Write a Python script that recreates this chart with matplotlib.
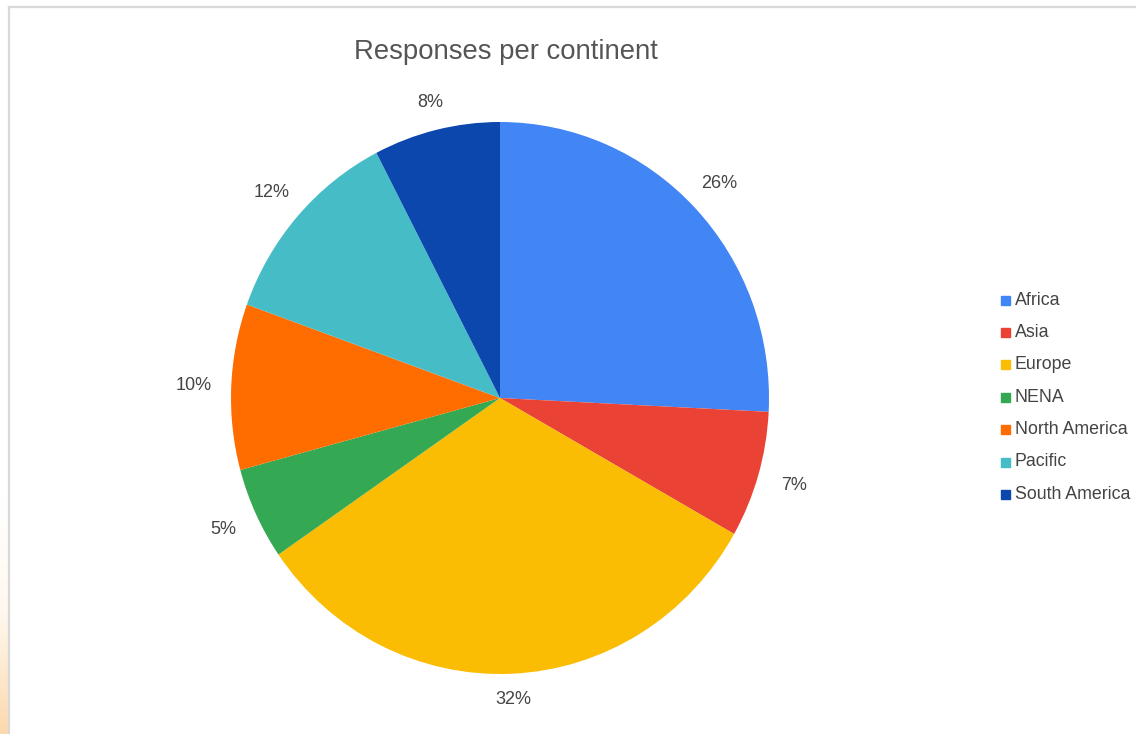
import numpy as np
import matplotlib
matplotlib.use('Agg')
import matplotlib.pyplot as plt
from matplotlib.patches import Rectangle
from matplotlib.lines import Line2D

# Dữ liệu
continents = ['Africa', 'Asia', 'Europe', 'NENA', 'North America', 'Pacific', 'South America']
shares = [25.8, 7.4, 32.2, 5.4, 9.7, 11.9, 7.6]
colors = ['#4285F4', '#EA4335', '#FBBC04', '#34A853', '#FF6D01', '#46BDC6', '#0B47AD']
title = 'Responses per continent'

plt.rcParams['font.family'] = ['Liberation Sans', 'DejaVu Sans']

W, H = 1136, 734
fig = plt.figure(figsize=(W / 100, H / 100), dpi=100)
fig.patch.set_facecolor('white')

# Dải màu cam nhạt ở mép trái (nền slide)
grad = fig.add_axes([0, 0, 8 / W, 240 / H])
g = np.linspace(0, 1, 100)[:, None]
grad.imshow(g, cmap=matplotlib.colors.LinearSegmentedColormap.from_list('bg', ['#fcd9ad', '#fff8ee', '#ffffff']),
            aspect='auto', extent=[0, 1, 0, 1], origin='lower')
grad.axis('off')

# Khung viền xám
fig.add_artist(Line2D([8.5 / W, 1], [1 - 6.5 / H, 1 - 6.5 / H], color='#d9d9d9', lw=1.6))
fig.add_artist(Line2D([8.5 / W, 8.5 / W], [0, 1 - 6.5 / H], color='#d9d9d9', lw=1.6))

# Trục cho biểu đồ tròn: tâm (500, 398), bán kính ngang 269 px, dọc 276 px
cx, cy, rx, ry = 500, 398, 269, 276
lim = 1.2
ax = fig.add_axes([(cx - lim * rx) / W, (H - cy - lim * ry) / H, 2 * lim * rx / W, 2 * lim * ry / H])
wedges, _ = ax.pie(shares, colors=colors, startangle=90, counterclock=False,
                   wedgeprops=dict(linewidth=0))
ax.set_aspect('auto')
ax.set_xlim(-lim, lim)
ax.set_ylim(-lim, lim)
ax.axis('off')

# Nhãn phần trăm
for w, v in zip(wedges, shares):
    th = np.deg2rad((w.theta1 + w.theta2) / 2)
    r = 1.09 + 0.05 * abs(np.cos(th))
    ax.text(r * np.cos(th), r * np.sin(th), f'{v:.0f}%', ha='center', va='center',
            fontsize=13, color='#444444', clip_on=False)

fig.text(505.5 / W, 1 - 52 / H, title, ha='center', va='center', fontsize=19.8, color='#555555')

# Chú thích
for i, (name, c) in enumerate(zip(continents, colors)):
    y = 300 + i * 32.4
    fig.add_artist(Rectangle(((1001) / W, 1 - (y + 4.5) / H), 9 / W, 9 / H, color=c,
                             transform=fig.transFigure))
    fig.text(1015 / W, 1 - y / H, name, ha='left', va='center', fontsize=12.8, color='#444444')

fig.savefig('out.png', dpi=100)
